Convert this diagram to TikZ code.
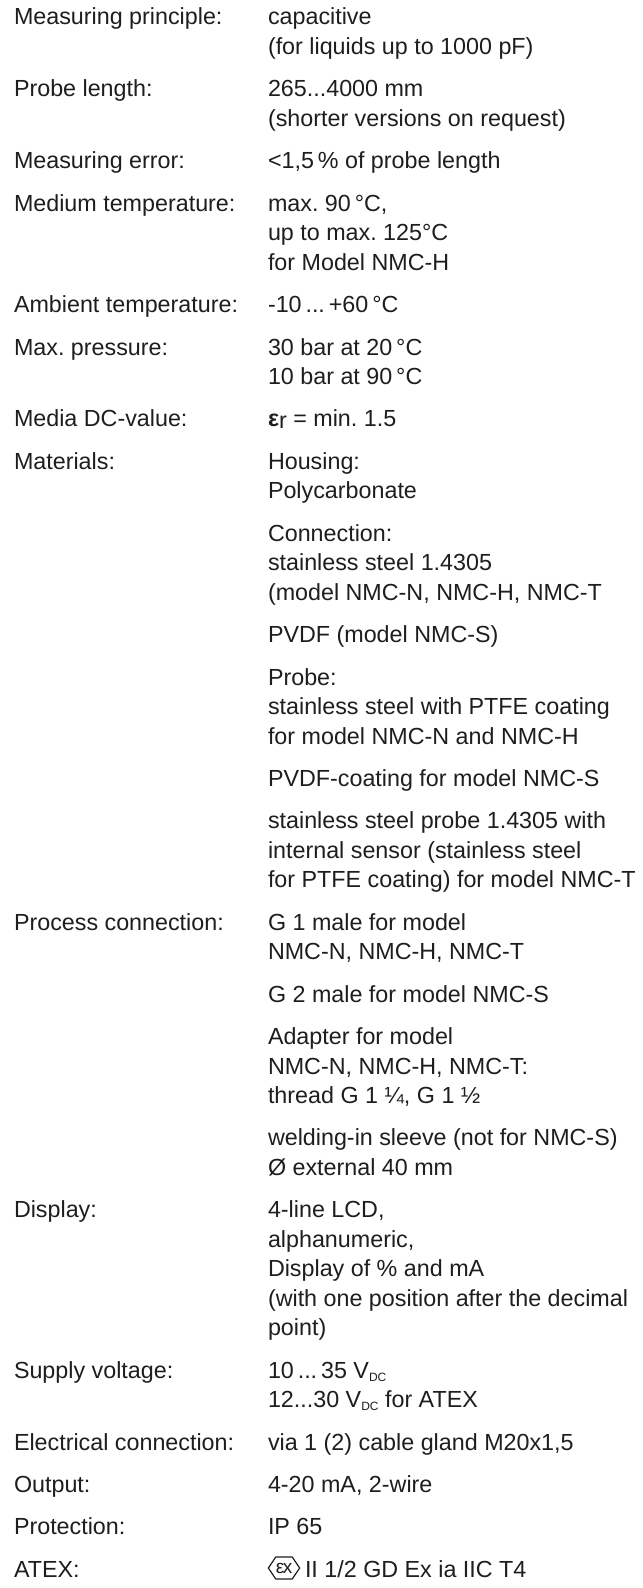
\documentclass[tikz,border=0pt]{standalone}
\usepackage{fontspec}
\setmainfont{Liberation Sans}
\usetikzlibrary{shapes.symbols}
\definecolor{txt}{RGB}{30,30,30}
\newcommand{\vdc}{V\raisebox{-3bp}{\fontsize{12bp}{12bp}\selectfont DC}}
\newcommand{\topstrut}{\rule{0pt}{20bp}}
\frenchspacing
\begin{document}
\begin{tikzpicture}[x=1bp,y=-1bp,
  every node/.style={inner sep=0pt, outer sep=0pt, text=txt},
  lab/.style={anchor=north west, align=left, font=\fontsize{23.3bp}{29.5bp}\selectfont\frenchspacing, yshift=20bp},
  val/.style={anchor=north west, align=left, font=\fontsize{23.3bp}{29.5bp}\selectfont\frenchspacing, yshift=20bp},
  exsym/.style={signal, signal to=west and east, signal pointer angle=112, draw=txt, line width=1.2bp,
    minimum width=31bp, minimum height=22bp, inner sep=0pt, font=\fontsize{19bp}{19bp}\selectfont}]
\path[use as bounding box, fill=white] (0,0) rectangle (643,1588);

\node[lab] (l1) at (14,25) {\topstrut Measuring principle:};
\node[val] (v1) at (268,25) {\topstrut capacitive\\(for liquids up to 1000 pF)};

\node[lab] (l2) at (14,96.9) {\topstrut Probe length:};
\node[val] (v2) at (268,96.9) {\topstrut 265...4000 mm\\(shorter versions on request)};

\node[lab] (l3) at (14,168.8) {\topstrut Measuring error:};
\node[val] (v3) at (268,168.8) {\topstrut <1,5\,\% of probe length};

\node[lab] (l4) at (14,211.2) {\topstrut Medium temperature:};
\node[val] (v4) at (268,211.2) {\topstrut max. 90\,°C,\\up to max. 125°C\\for Model NMC-H};

\node[lab] (l5) at (14,312.6) {\topstrut Ambient temperature:};
\node[val] (v5) at (268,312.6) {\topstrut -10\,...\,+60\,°C};

\node[lab] (l6) at (14,355.0) {\topstrut Max. pressure:};
\node[val] (v6) at (268,355.0) {\topstrut 30 bar at 20\,°C\\10 bar at 90\,°C};

\node[lab] (l7) at (14,426.9) {\topstrut Media DC-value:};
\node[val] (v7) at (268,426.9) {\topstrut {\bfseries ε}\raisebox{-2bp}{r} = min. 1.5};

\node[lab] (l8) at (14,469.3) {\topstrut Materials:};
\node[val] (v8) at (268,469.3) {\topstrut Housing:\\Polycarbonate};
\node[val] (v9) at (268,541.2) {\topstrut Connection:\\stainless steel 1.4305\\(model NMC-N, NMC-H, NMC-T};
\node[val] (v10) at (268,642.6) {\topstrut PVDF (model NMC-S)};
\node[val] (v11) at (268,685.0) {\topstrut Probe:\\stainless steel with PTFE coating\\for model NMC-N and NMC-H};
\node[val] (v12) at (268,786.4) {\topstrut PVDF-coating for model NMC-S};
\node[val] (v13) at (268,828.8) {\topstrut stainless steel probe 1.4305 with\\internal sensor (stainless steel\\for PTFE coating) for model NMC-T};

\node[lab] (l14) at (14,930.2) {\topstrut Process connection:};
\node[val] (v14) at (268,930.2) {\topstrut G 1 male for model\\NMC-N, NMC-H, NMC-T};
\node[val] (v15) at (268,1002.1) {\topstrut G 2 male for model NMC-S};
\node[val] (v16) at (268,1044.5) {\topstrut Adapter for model\\NMC-N, NMC-H, NMC-T:\\thread G 1 ¼, G 1 ½};
\node[val] (v17) at (268,1145.9) {\topstrut welding-in sleeve (not for NMC-S)\\Ø external 40 mm};

\node[lab] (l18) at (14,1217.8) {\topstrut Display:};
\node[val] (v18) at (268,1217.8) {\topstrut 4-line LCD,\\alphanumeric,\\Display of \% and mA\\(with one position after the decimal\\point)};

\node[lab] (l19) at (14,1378.2) {\topstrut Supply voltage:};
\node[val] (v19) at (268,1378.2) {\topstrut 10\,...\,35 \vdc\\12...30 \vdc{} for ATEX};

\node[lab] (l20) at (14,1450.1) {\topstrut Electrical connection:};
\node[val] (v20) at (268,1450.1) {\topstrut via 1 (2) cable gland M20x1,5};

\node[lab] (l21) at (14,1492.5) {\topstrut Output:};
\node[val] (v21) at (268,1492.5) {\topstrut 4-20 mA, 2-wire};

\node[lab] (l22) at (14,1534.9) {\topstrut Protection:};
\node[val] (v22) at (268,1534.9) {\topstrut IP 65};

\node[lab] (l23) at (14,1577.3) {\topstrut ATEX:};
\node[exsym] (ex) at (284,1568) {ε\kern-1.5bp x};
\node[val] (v23) at (305,1577.3) {\topstrut II 1/2 GD Ex ia IIC T4};
\end{tikzpicture}
\end{document}
